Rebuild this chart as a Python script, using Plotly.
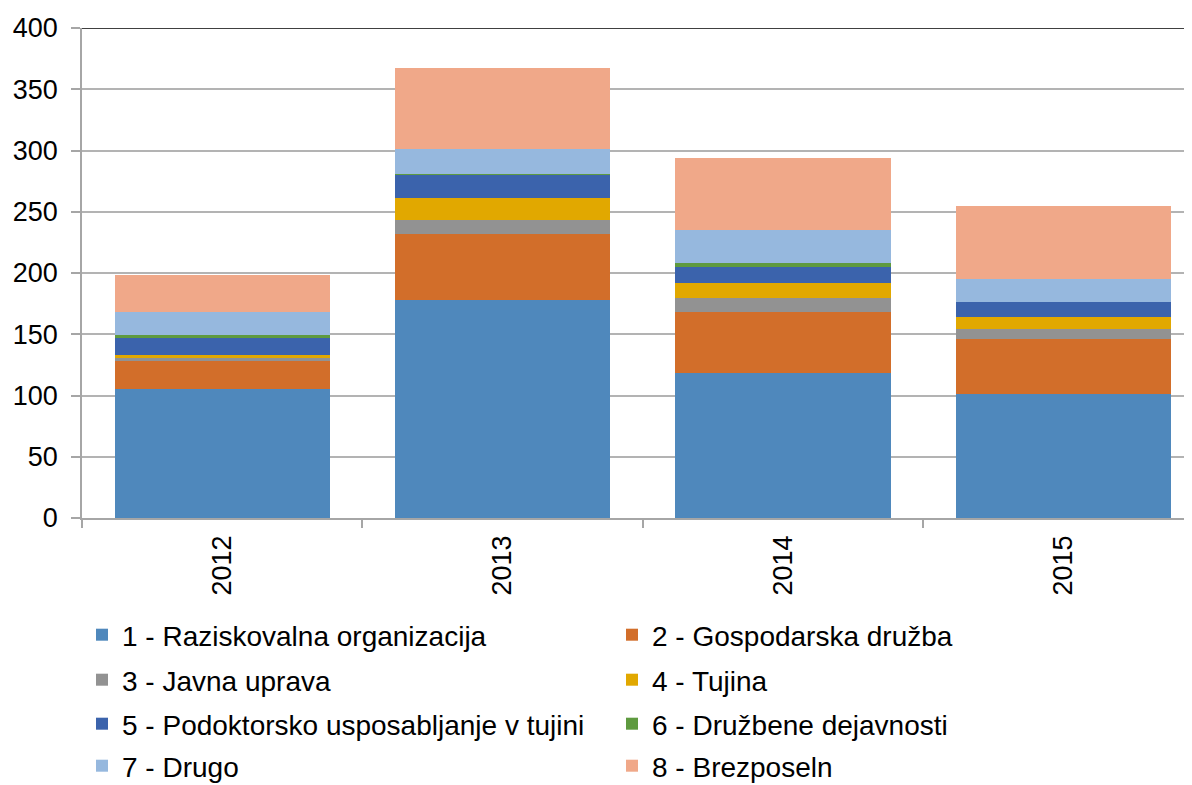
import plotly.graph_objects as go

years = ["2012", "2013", "2014", "2015"]
series_names = [
    "1 - Raziskovalna organizacija",
    "2 - Gospodarska družba",
    "3 - Javna uprava",
    "4 - Tujina",
    "5 - Podoktorsko usposabljanje v tujini",
    "6 - Družbene dejavnosti",
    "7 - Drugo",
    "8 - Brezposeln",
]
raziskovalna = [105, 178, 118, 101]
gospodarska = [23, 54, 50, 45]
javna_uprava = [3, 11, 12, 8]
tujina = [2, 18, 12, 10]
podoktorsko = [14, 19, 13, 12]
druzbene = [2, 1, 3, 0]
drugo = [19, 20, 27, 19]
brezposeln = [30, 66, 59, 60]
series_values = [raziskovalna, gospodarska, javna_uprava, tujina,
                 podoktorsko, druzbene, drugo, brezposeln]
colors = ["#4F88BC", "#D26E2A", "#929292", "#E1A800",
          "#3B63AC", "#5E9A3F", "#96B8DE", "#F0A889"]
y_ticks = [0, 50, 100, 150, 200, 250, 300, 350, 400]

# page has an 8px body margin, so the figure is 8px smaller
W, H = 1184, 777
ml, mt, mb = 74, 20, 267
plot_h = H - mt - mb  # 490

fig = go.Figure()
legend_ids = ["legend", "legend", "legend2", "legend2",
              "legend3", "legend3", "legend4", "legend4"]
for name, vals, col, lg in zip(series_names, series_values, colors, legend_ids):
    fig.add_trace(go.Bar(x=years, y=vals, name=name, legend=lg,
                         marker=dict(color=col, line=dict(width=0))))

family = "Liberation Sans, Arial, sans-serif"
font = dict(family=family, size=27, color="#000000")
lfont = dict(family=family, size=28, color="#000000")

# legend row centres in page pixels -> paper coordinates
row_px = [635, 680, 724, 766]
axis_bottom_page = 518
rows_paper = [(axis_bottom_page - p) / plot_h for p in row_px]

def leg(yv):
    return dict(orientation="h", x=0.0, xanchor="left", y=yv, yanchor="middle",
                entrywidth=485, entrywidthmode="pixels", font=lfont,
                traceorder="normal", bgcolor="rgba(0,0,0,0)")

fig.update_layout(
    width=W, height=H,
    margin=dict(l=ml, r=0, t=mt, b=mb, pad=0, autoexpand=False),
    barmode="stack", bargap=0.232,
    plot_bgcolor="white", paper_bgcolor="white",
    font=font,
    showlegend=True,
    legend=leg(rows_paper[0]),
    legend2=leg(rows_paper[1]),
    legend3=leg(rows_paper[2]),
    legend4=leg(rows_paper[3]),
    xaxis=dict(range=[-0.5, 3.458], showgrid=False, showline=True,
               linecolor="#A6A6A6", linewidth=1.5,
               ticks="outside", tickson="boundaries", ticklen=8,
               tickcolor="#A6A6A6", tickwidth=1.5, tickangle=-90,
               ticklabelstandoff=5, tickfont=font),
    yaxis=dict(range=[0, 400], tickvals=y_ticks, showgrid=True,
               gridcolor="#B3B3B3", gridwidth=1.5, showline=True,
               linecolor="#A6A6A6", linewidth=1.5, ticks="outside",
               ticklen=9, tickcolor="#A6A6A6", tickwidth=1.5,
               ticklabelstandoff=8, tickfont=font, zeroline=False),
)
fig.add_shape(type="line", xref="paper", yref="y", x0=0, x1=1, y0=400, y1=400,
              line=dict(color="#000000", width=1.5))

fig.write_html("out.html")
